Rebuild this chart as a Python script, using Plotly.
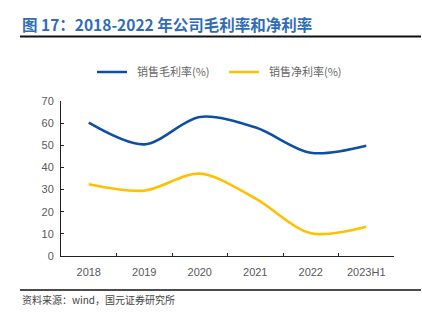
import plotly.graph_objects as go

# Annual margin data (%)
years = ["2018", "2019", "2020", "2021", "2022", "2023H1"]
gross_margin = [60.2, 50.4, 62.8, 58.1, 46.6, 49.8]
net_margin = [32.4, 29.5, 37.2, 26.0, 10.3, 13.2]
series_names = ["销售毛利率(%)", "销售净利率(%)"]
y_ticks = [0, 10, 20, 30, 40, 50, 60, 70]

title_text = "图 17：2018-2022 年公司毛利率和净利率"
source_text = "资料来源：wind，国元证券研究所"

W, H = 422, 322
L, R, T, B = 61, 28, 101, 66
plot_w = W - L - R
plot_h = H - T - B


def px_x(x):
    return (x - L) / plot_w


def px_y(y):
    return (H - B - y) / plot_h


cjk = "Noto Sans CJK SC"
latin = "Liberation Sans"
grey = "#595959"

fig = go.Figure()
fig.add_trace(go.Scatter(
    x=years, y=gross_margin, name="  " + series_names[0], mode="lines",
    line=dict(color="#0E4FA6", width=2.6, shape="spline", smoothing=0.9),
))
fig.add_trace(go.Scatter(
    x=years, y=net_margin, name="  " + series_names[1], mode="lines",
    line=dict(color="#FFC000", width=2.6, shape="spline", smoothing=0.9),
))

fig.update_layout(
    width=W, height=H,
    margin=dict(l=L, r=R, t=T, b=B),
    paper_bgcolor="white", plot_bgcolor="white",
    showlegend=True,
    legend=dict(
        orientation="h", x=px_x(92), y=px_y(72), xanchor="left", yanchor="middle",
        font=dict(family=cjk, size=11, color="#666"),
        entrywidth=87, entrywidthmode="pixels",
        bgcolor="rgba(0,0,0,0)",
    ),
    xaxis=dict(
        type="category", range=[-0.5, 5.5],
        showline=True, linecolor="#222", linewidth=1,
        ticks="inside", tickson="boundaries", ticklen=3, tickcolor="#222",
        showgrid=False, zeroline=False,
        tickfont=dict(family=latin, size=11, color=grey),
        ticklabelstandoff=6,
    ),
    yaxis=dict(
        range=[0, 70], tickvals=y_ticks,
        showline=True, linecolor="#222", linewidth=1,
        ticks="inside", ticklen=3, tickcolor="#222",
        showgrid=False, zeroline=False,
        tickfont=dict(family=latin, size=11, color=grey),
        ticklabelstandoff=4,
    ),
    annotations=[
        dict(text=f"<b>{title_text}</b>", xref="paper", yref="paper",
             x=px_x(20), y=px_y(24), xanchor="left", yanchor="middle",
             showarrow=False, font=dict(family=cjk, size=15.5, color="#2F6DB8")),
        dict(text=source_text, xref="paper", yref="paper",
             x=px_x(20), y=px_y(299), xanchor="left", yanchor="middle",
             showarrow=False, font=dict(family=cjk, size=10, color="#444")),
    ],
    shapes=[
        dict(type="line", xref="paper", yref="paper",
             x0=px_x(20), x1=px_x(421), y0=px_y(36.5), y1=px_y(36.5),
             line=dict(color="#111", width=2)),
        dict(type="line", xref="paper", yref="paper",
             x0=px_x(20), x1=px_x(421), y0=px_y(290), y1=px_y(290),
             line=dict(color="#111", width=1.5)),
    ],
)

fig.write_html("out.html")
